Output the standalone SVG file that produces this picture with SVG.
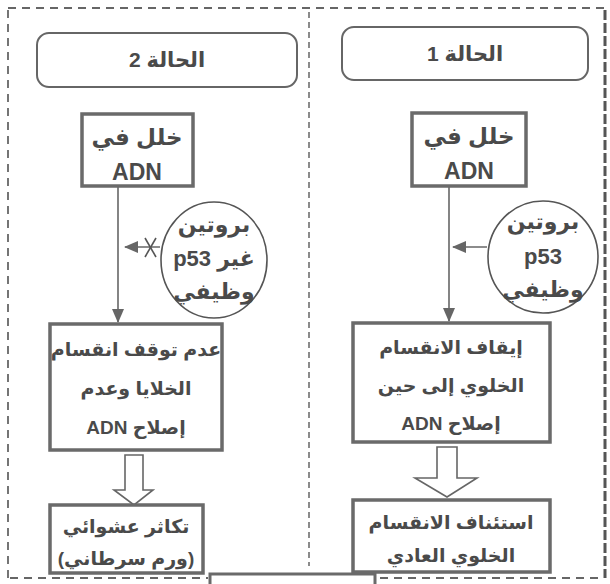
<svg xmlns="http://www.w3.org/2000/svg" width="610" height="584" viewBox="0 0 610 584">
<defs>
<style>
.t{font-family:"Liberation Sans","DejaVu Sans",sans-serif;font-weight:bold;fill:#4a4a4a;text-anchor:middle;direction:rtl;unicode-bidi:embed;}
.box{fill:#fff;stroke:#6a6a6a;stroke-width:3.5;}
.title{fill:#fff;stroke:#666;stroke-width:2;}
.circ{fill:#fff;stroke:#555;stroke-width:1.6;}
.line{stroke:#666;stroke-width:1.6;fill:none;}
.hollow{fill:#fff;stroke:#666;stroke-width:1.6;}
.dash{stroke:#666;stroke-width:1.8;stroke-dasharray:8 6;fill:none;}
</style>
<marker id="ah2" markerWidth="14" markerHeight="12" refX="13" refY="6" orient="auto" markerUnits="userSpaceOnUse">
<path d="M0,0 L14,6 L0,12 Z" fill="#666"/>
</marker>
</defs>
<rect width="610" height="584" fill="#fff"/>

<g id="frame">
<line class="dash" x1="8" y1="8" x2="604" y2="8"/>
<line class="dash" x1="8" y1="10" x2="8" y2="578"/>
<line x1="605" y1="10" x2="605" y2="578" stroke="#555" stroke-width="3" stroke-dasharray="10 3"/>
<line class="dash" x1="10" y1="578" x2="208" y2="578"/>
<line class="dash" x1="380" y1="578" x2="604" y2="578"/>
<line x1="309" y1="12" x2="309" y2="566" stroke="#666" stroke-width="1.5" stroke-dasharray="6 4"/>
<path d="M210,584 L210,574 L375,574 L375,584" fill="#fff" stroke="#6a6a6a" stroke-width="3"/>
</g>

<g id="title2">
<rect class="title" x="37" y="33" width="260" height="54" rx="12"/>
<text class="t" x="167" y="67" font-size="21" direction="rtl">الحالة 2</text>
</g>
<g id="title1">
<rect class="title" x="342" y="27" width="246" height="53" rx="12"/>
<text class="t" x="465" y="61" font-size="21" direction="rtl">الحالة 1</text>
</g>

<g id="connectors">
<line class="line" x1="118" y1="186" x2="118" y2="322" marker-end="url(#ah2)"/>
<line class="line" x1="449" y1="186" x2="449" y2="321" marker-end="url(#ah2)"/>
<line class="line" x1="160" y1="247" x2="125" y2="247" marker-end="url(#ah2)"/>
<line x1="145" y1="238" x2="156" y2="257" stroke="#555" stroke-width="1.6"/>
<line x1="156" y1="238" x2="145" y2="257" stroke="#555" stroke-width="1.6"/>
<line class="line" x1="487" y1="247" x2="453" y2="247" marker-end="url(#ah2)"/>
<path class="hollow" d="M125,455 L143,455 L143,490 L153,490 L134,505 L114,490 L125,490 Z"/>
<path class="hollow" d="M437,447 L457,447 L457,478 L477,478 L447,497 L415,478 L437,478 Z"/>
</g>

<g id="dna2">
<rect class="box" x="82" y="114" width="111" height="72"/>
<text class="t" x="137" y="145" font-size="23" direction="rtl">خلل في</text>
<text class="t" x="137" y="180" font-size="23">ADN</text>
</g>
<g id="dna1">
<rect class="box" x="412" y="113" width="114" height="73"/>
<text class="t" x="469" y="144" font-size="23" direction="rtl">خلل في</text>
<text class="t" x="469" y="179" font-size="23">ADN</text>
</g>

<g id="p53-2">
<ellipse class="circ" cx="214" cy="260" rx="53" ry="58"/>
<text class="t" x="214" y="232" font-size="22" direction="rtl">بروتين</text>
<text class="t" x="214" y="266" font-size="22" direction="rtl">غير p53</text>
<text class="t" x="214" y="299" font-size="22" direction="rtl">وظيفي</text>
</g>
<g id="p53-1">
<ellipse class="circ" cx="543" cy="257" rx="55" ry="56"/>
<text class="t" x="543" y="229" font-size="22" direction="rtl">بروتين</text>
<text class="t" x="543" y="264" font-size="22">p53</text>
<text class="t" x="543" y="297" font-size="22" direction="rtl">وظيفي</text>
</g>

<g id="res2">
<rect class="box" x="50" y="324" width="172" height="126"/>
<text class="t" x="136" y="356" font-size="19" direction="rtl">عدم توقف انقسام</text>
<text class="t" x="136" y="395" font-size="19" direction="rtl">الخلايا وعدم</text>
<text class="t" x="136" y="434" font-size="19" direction="rtl">إصلاح ADN</text>
</g>
<g id="res1">
<rect class="box" x="353" y="323" width="197" height="119"/>
<text class="t" x="451" y="354" font-size="19" direction="rtl">إيقاف الانقسام</text>
<text class="t" x="451" y="392" font-size="19" direction="rtl">الخلوي إلى حين</text>
<text class="t" x="451" y="430" font-size="19" direction="rtl">إصلاح ADN</text>
</g>

<g id="out2">
<rect class="box" x="50" y="505" width="153" height="68"/>
<text class="t" x="126" y="533" font-size="19" direction="rtl">تكاثر عشوائي</text>
<text class="t" x="126" y="565" font-size="19" direction="rtl">(ورم سرطاني)</text>
</g>
<g id="out1">
<rect class="box" x="353" y="500" width="197" height="72"/>
<text class="t" x="451" y="529" font-size="19" direction="rtl">استئناف الانقسام</text>
<text class="t" x="451" y="562" font-size="19" direction="rtl">الخلوي العادي</text>
</g>
</svg>
